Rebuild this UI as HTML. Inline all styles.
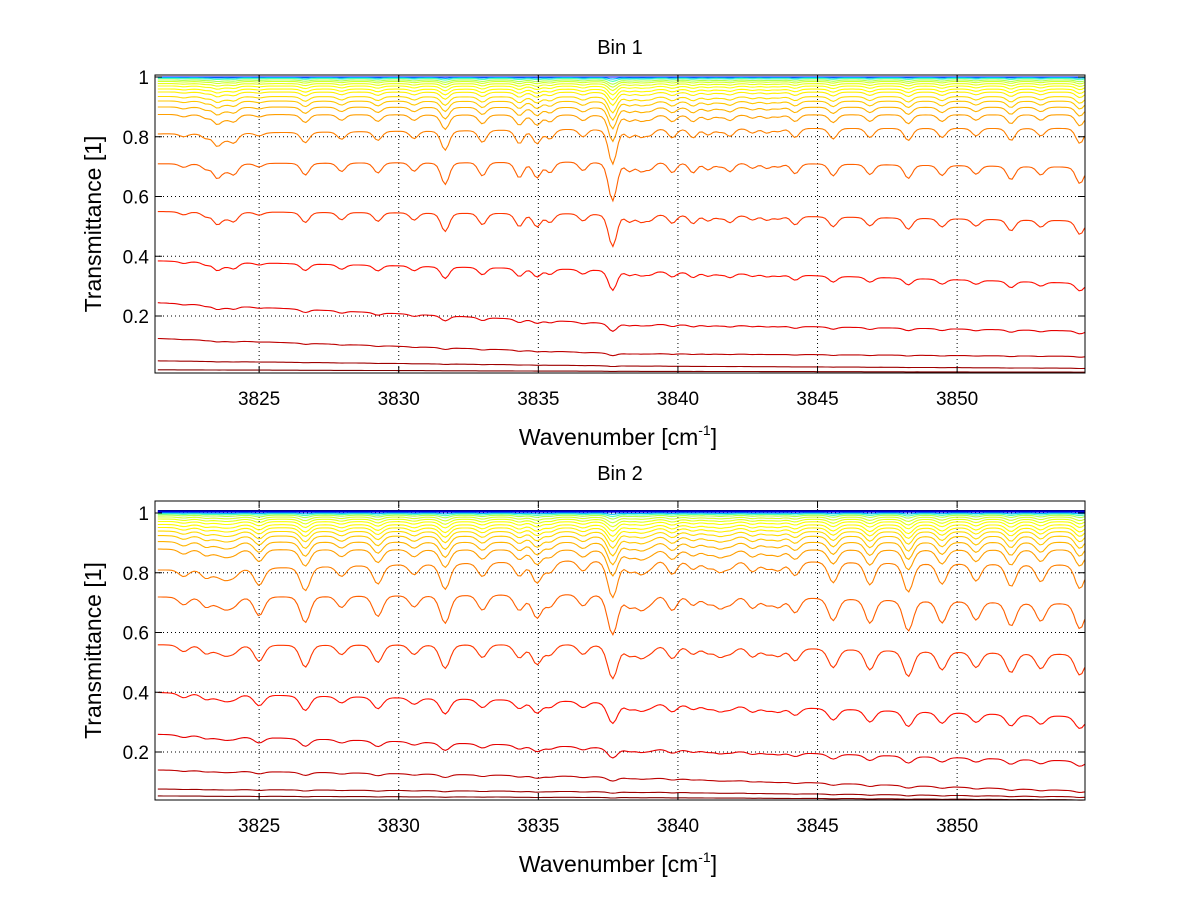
<!DOCTYPE html>
<html><head><meta charset="utf-8"><style>
html,body{margin:0;padding:0;background:#fff;}
svg{display:block;font-family:"Liberation Sans",sans-serif;}
</style></head><body>
<svg id="fig" width="1200" height="901" xmlns="http://www.w3.org/2000/svg">
<rect width="1200" height="901" fill="#fff"/>
</svg>
<script>
// ---- data ----
const xTicks = [3825, 3830, 3835, 3840, 3845, 3850];
const yTicks = [0.2, 0.4, 0.6, 0.8, 1];
const yTickLabels = ["0.2", "0.4", "0.6", "0.8", "1"];
const lineCenters = [3822.3,3823.1,3823.5,3823.8,3824.1,3825.0,3826.65,3827.95,3829.25,3830.55,3831.66,3833.0,3834.32,3834.95,3835.42,3836.6,3837.66,3838.27,3838.68,3839.0,3839.8,3840.54,3841.08,3841.5,3841.87,3842.67,3843.19,3843.6,3844.2,3845.56,3846.88,3848.25,3849.46,3850.68,3851.93,3853.0,3854.4];
const bin1Strength = [0.2,0.3,0.8,0.3,0.6,0.2,0.7,0.5,0.6,0.5,1.3,0.8,0.9,0.9,0.6,0.5,2.4,0.5,0.5,0.4,0.6,0.6,0.4,0.2,0.5,0.3,0.3,0.2,0.6,0.7,0.6,0.8,0.6,0.5,0.8,0.5,1.0];
const bin2Strength = [0.4,0.5,0.3,0.5,0.4,1.0,1.4,0.6,1.1,0.6,1.5,0.8,0.8,1.2,0.6,0.6,2.2,0.6,0.7,0.4,0.8,0.5,0.4,0.6,0.4,0.6,0.4,0.5,0.8,1.2,1.3,1.7,1.2,1.0,1.3,1.0,1.4];
// continuum levels at left / middle / right per curve
const bin1Left  = [1,1,1,0.998,0.995,0.99,0.985,0.978,0.97,0.96,0.95,0.935,0.92,0.9,0.875, 0.81,0.71,0.55,0.385,0.245,0.125,0.05,0.02];
const bin1Mid   = [1,1,1,0.998,0.995,0.99,0.985,0.978,0.97,0.96,0.95,0.935,0.92,0.9,0.875, 0.83,0.72,0.545,0.355,0.175,0.075,0.033,0.015];
const bin1Right = [1,1,1,0.998,0.995,0.99,0.985,0.978,0.97,0.96,0.95,0.935,0.92,0.9,0.875, 0.83,0.70,0.52,0.31,0.15,0.065,0.025,0.012];
const bin1Depth = [0,0,0,0.002,0.004,0.006,0.008,0.01,0.013,0.016,0.02,0.025,0.03,0.035,0.045, 0.065,0.085,0.095,0.09,0.07,0.05,0.03,0.015];
const bin2Left  = [1.008,1.005,1.003,1.0,0.997,0.993,0.987,0.98,0.972,0.962,0.952,0.94,0.925,0.905,0.88, 0.81,0.72,0.56,0.40,0.26,0.14,0.076,0.053];
const bin2Mid   = [1.008,1.005,1.003,1.0,0.997,0.993,0.987,0.98,0.972,0.962,0.952,0.94,0.925,0.905,0.88, 0.85,0.735,0.565,0.37,0.215,0.117,0.067,0.048];
const bin2Right = [1.008,1.005,1.003,1.0,0.997,0.993,0.987,0.98,0.972,0.962,0.952,0.94,0.925,0.905,0.88, 0.83,0.70,0.53,0.32,0.17,0.07,0.05,0.04];
const bin2Depth = [0,0,0,0.002,0.004,0.006,0.009,0.012,0.015,0.019,0.023,0.028,0.034,0.04,0.048, 0.075,0.095,0.105,0.1,0.08,0.06,0.035,0.02];
// colormap positions (style)
const colorT = [0.02,0.06,0.12,0.3,0.45,0.55,0.58,0.6,0.62,0.63,0.64,0.66,0.68,0.7,0.72, 0.75,0.78,0.82,0.86,0.9,0.94,0.97,1.0];

const NS = "http://www.w3.org/2000/svg";
const svg = document.getElementById("fig");
function el(tag, attrs, parent){const e=document.createElementNS(NS,tag);for(const k in attrs)e.setAttribute(k,attrs[k]);(parent||svg).appendChild(e);return e;}
function jet(t){const c=v=>Math.round(255*Math.max(0,Math.min(1,v)));return `rgb(${c(1.5-Math.abs(4*t-3))},${c(1.5-Math.abs(4*t-2))},${c(1.5-Math.abs(4*t-1))})`;}

const X0=3821.27, X1=3854.58;
const panels=[
 {name:"bin-1",title:"Bin 1",top:75,bottom:373,y1:77,strength:bin1Strength,L:bin1Left,M:bin1Mid,R:bin1Right,D:bin1Depth,w:0.2},
 {name:"bin-2",title:"Bin 2",top:501,bottom:800,y1:513,strength:bin2Strength,L:bin2Left,M:bin2Mid,R:bin2Right,D:bin2Depth,w:0.24}
];
const left=155,right=1085;
const xs=v=>left+(v-X0)/(X1-X0)*(right-left);
panels.forEach(p=>{
  const ys=v=>p.y1+(1-v)*298.75;
  const g=el("g",{});
  
  
  xTicks.forEach(t=>{const l=el("line",{x1:xs(t),x2:xs(t),y1:p.top,y2:p.bottom,stroke:"#000","stroke-width":1,"stroke-dasharray":"1,3"},g);
    });
  yTicks.forEach(t=>{const l=el("line",{x1:left,x2:right,y1:ys(t),y2:ys(t),stroke:"#000","stroke-width":1,"stroke-dasharray":"1,3"},g);
    });
  const cg=el("g",{fill:"none","stroke-width":1.1,"stroke-linejoin":"miter"},g);
  
  const n=p.L.length;
  for(let i=0;i<n;i++){
    let pts=[];
    for(let x=X0+0.1;x<=X1;x+=0.1){
      const f=(x-X0)/(X1-X0);
      const lev=f<0.5? p.L[i]+(p.M[i]-p.L[i])*(f/0.5) : p.M[i]+(p.R[i]-p.M[i])*((f-0.5)/0.5);
      let a=0;
      for(let j=0;j<lineCenters.length;j++){const d=(x-lineCenters[j])/p.w;a+=p.strength[j]*(0.7*Math.exp(-d*d)+0.3/(1+d*d));}
      const v=lev*Math.exp(-p.D[i]*a);
      pts.push(xs(x).toFixed(1)+","+ys(v).toFixed(1));
    }
    const pl=el("polyline",{points:pts.join(" "),stroke:jet(colorT[i])},cg);
    
    
  }
  el("rect",{x:0,y:p.top-30,width:1200,height:30,fill:"#fff"},g);
  const b=el("rect",{x:left,y:p.top,width:right-left,height:p.bottom-p.top,fill:"none",stroke:"#000","stroke-width":1},g);
  
  xTicks.forEach(t=>{
    el("line",{x1:xs(t),x2:xs(t),y1:p.bottom,y2:p.bottom-7,stroke:"#000"},g);
    el("line",{x1:xs(t),x2:xs(t),y1:p.top,y2:p.top+7,stroke:"#000"},g);
    const tx=el("text",{x:xs(t),y:p.bottom+32,"text-anchor":"middle","font-size":19,fill:"#000"},g);tx.textContent=t;
    
  });
  yTicks.forEach((t,k)=>{
    el("line",{x1:left,x2:left+7,y1:ys(t),y2:ys(t),stroke:"#000"},g);
    el("line",{x1:right,x2:right-7,y1:ys(t),y2:ys(t),stroke:"#000"},g);
    const tx=el("text",{x:left-6,y:ys(t)+7,"text-anchor":"end","font-size":19,fill:"#000"},g);tx.textContent=yTickLabels[k];
    
  });
  const ti=el("text",{x:620,y:p.top-21,"text-anchor":"middle","font-size":20,fill:"#000"},g);ti.textContent=p.title;
  
  const xl=el("text",{x:618,y:p.bottom+72,"text-anchor":"middle","font-size":23,fill:"#000"},g);
  xl.innerHTML='Wavenumber [cm<tspan font-size="14" dy="-10">-1</tspan><tspan dy="10">]</tspan>';
  
  const cy=(p.top+p.bottom)/2;
  const yl=el("text",{x:0,y:0,"text-anchor":"middle","font-size":23,fill:"#000",transform:`translate(101,${cy}) rotate(-90)`},g);yl.textContent="Transmittance [1]";
  
});
</script>
</body></html>
